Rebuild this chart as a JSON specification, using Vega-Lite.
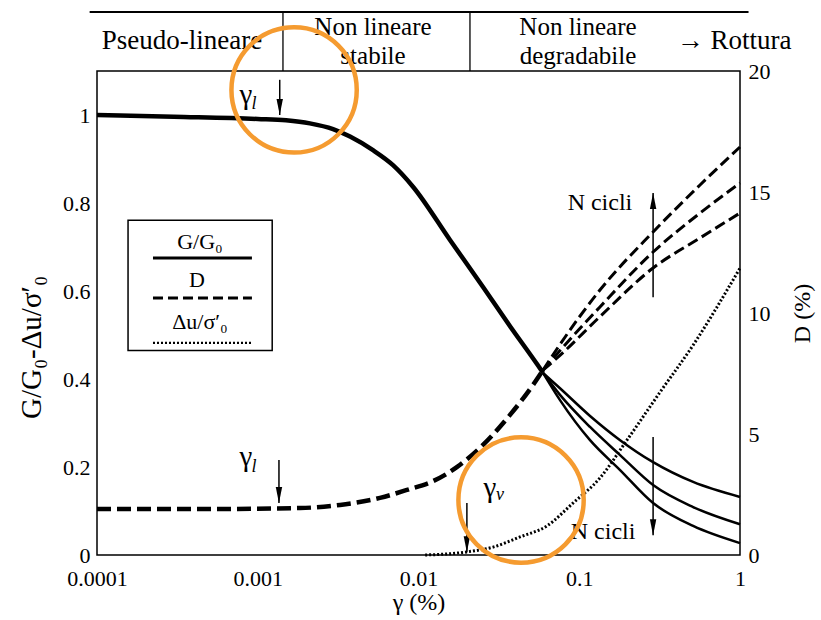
{
  "$schema": "https://vega.github.io/schema/vega-lite/v6.json",
  "width": 643,
  "height": 484,
  "autosize": "none",
  "padding": {"left": 97, "top": 71, "right": 81, "bottom": 65},
  "background": "white",
  "config": {
    "font": "Liberation Serif, DejaVu Serif, serif",
    "view": {"stroke": "black", "strokeWidth": 1.5},
    "axis": {
      "labelColor": "black", "titleColor": "black", "domainColor": "black", "tickColor": "black",
      "titleFontWeight": "normal", "labelFontSize": 22, "titleFontSize": 24,
      "domain": false, "ticks": false, "grid": false
    }
  },
  "datasets": {
    "G": [
      {"series": "main", "g": 0.0001, "v": 1.0},
      {"series": "main", "g": 0.0003, "v": 0.996},
      {"series": "main", "g": 0.001, "v": 0.991},
      {"series": "main", "g": 0.0015, "v": 0.988},
      {"series": "main", "g": 0.00211, "v": 0.981},
      {"series": "main", "g": 0.00294, "v": 0.968},
      {"series": "main", "g": 0.00375, "v": 0.951},
      {"series": "main", "g": 0.00521, "v": 0.92},
      {"series": "main", "g": 0.00694, "v": 0.886},
      {"series": "main", "g": 0.00924, "v": 0.837},
      {"series": "main", "g": 0.0157, "v": 0.716},
      {"series": "main", "g": 0.0252, "v": 0.609},
      {"series": "main", "g": 0.0371, "v": 0.52},
      {"series": "main", "g": 0.0546, "v": 0.434},
      {"series": "main", "g": 0.0595, "v": 0.414},
      {"series": "N1", "g": 0.0595, "v": 0.414},
      {"series": "N1", "g": 0.0759, "v": 0.379},
      {"series": "N1", "g": 0.1167, "v": 0.316},
      {"series": "N1", "g": 0.1795, "v": 0.261},
      {"series": "N1", "g": 0.288, "v": 0.211},
      {"series": "N1", "g": 0.511, "v": 0.166},
      {"series": "N1", "g": 1, "v": 0.132},
      {"series": "N2", "g": 0.0595, "v": 0.414},
      {"series": "N2", "g": 0.0759, "v": 0.364},
      {"series": "N2", "g": 0.1167, "v": 0.291},
      {"series": "N2", "g": 0.1795, "v": 0.227},
      {"series": "N2", "g": 0.288, "v": 0.159},
      {"series": "N2", "g": 0.511, "v": 0.109},
      {"series": "N2", "g": 1, "v": 0.07},
      {"series": "N3", "g": 0.0595, "v": 0.414},
      {"series": "N3", "g": 0.0759, "v": 0.352},
      {"series": "N3", "g": 0.1167, "v": 0.261},
      {"series": "N3", "g": 0.1795, "v": 0.193},
      {"series": "N3", "g": 0.288, "v": 0.118},
      {"series": "N3", "g": 0.511, "v": 0.066},
      {"series": "N3", "g": 1, "v": 0.027}
    ],
    "D": [
      {"series": "main", "g": 0.0001, "d": 1.9},
      {"series": "main", "g": 0.0005, "d": 1.9},
      {"series": "main", "g": 0.00183, "d": 1.94},
      {"series": "main", "g": 0.00325, "d": 2.07},
      {"series": "main", "g": 0.00576, "d": 2.36},
      {"series": "main", "g": 0.00848, "d": 2.69},
      {"series": "main", "g": 0.0123, "d": 3.05},
      {"series": "main", "g": 0.0174, "d": 3.64},
      {"series": "main", "g": 0.0252, "d": 4.55},
      {"series": "main", "g": 0.0371, "d": 5.79},
      {"series": "main", "g": 0.0515, "d": 7.02},
      {"series": "main", "g": 0.0595, "d": 7.64},
      {"series": "N1", "g": 0.0595, "d": 7.64},
      {"series": "N1", "g": 0.0759, "d": 8.7},
      {"series": "N1", "g": 0.1345, "d": 10.95},
      {"series": "N1", "g": 0.288, "d": 13.35},
      {"series": "N1", "g": 0.564, "d": 15.29},
      {"series": "N1", "g": 1, "d": 16.86},
      {"series": "N2", "g": 0.0595, "d": 7.64},
      {"series": "N2", "g": 0.0759, "d": 8.45},
      {"series": "N2", "g": 0.1345, "d": 10.25},
      {"series": "N2", "g": 0.288, "d": 12.52},
      {"series": "N2", "g": 0.564, "d": 14.13},
      {"series": "N2", "g": 1, "d": 15.37},
      {"series": "N3", "g": 0.0595, "d": 7.64},
      {"series": "N3", "g": 0.0759, "d": 8.25},
      {"series": "N3", "g": 0.1345, "d": 9.85},
      {"series": "N3", "g": 0.288, "d": 11.86},
      {"series": "N3", "g": 0.564, "d": 13.1},
      {"series": "N3", "g": 1, "d": 14.13}
    ],
    "U": [
      {"g": 0.011, "v": 0},
      {"g": 0.013, "v": 0.001},
      {"g": 0.02, "v": 0.007},
      {"g": 0.0291, "v": 0.018},
      {"g": 0.0428, "v": 0.041},
      {"g": 0.0629, "v": 0.066},
      {"g": 0.0914, "v": 0.118},
      {"g": 0.1345, "v": 0.175},
      {"g": 0.198, "v": 0.261},
      {"g": 0.318, "v": 0.37},
      {"g": 0.511, "v": 0.477},
      {"g": 1, "v": 0.652}
    ],
    "xticks": [
      {"g": 0.0001, "major": true}, {"g": 0.0002, "major": false}, {"g": 0.0003, "major": false}, {"g": 0.0004, "major": false}, {"g": 0.0005, "major": false}, {"g": 0.0006, "major": false}, {"g": 0.0007, "major": false}, {"g": 0.0008, "major": false}, {"g": 0.0009, "major": false},
      {"g": 0.001, "major": true}, {"g": 0.002, "major": false}, {"g": 0.003, "major": false}, {"g": 0.004, "major": false}, {"g": 0.005, "major": false}, {"g": 0.006, "major": false}, {"g": 0.007, "major": false}, {"g": 0.008, "major": false}, {"g": 0.009, "major": false},
      {"g": 0.01, "major": true}, {"g": 0.02, "major": false}, {"g": 0.03, "major": false}, {"g": 0.04, "major": false}, {"g": 0.05, "major": false}, {"g": 0.06, "major": false}, {"g": 0.07, "major": false}, {"g": 0.08, "major": false}, {"g": 0.09, "major": false},
      {"g": 0.1, "major": true}, {"g": 0.2, "major": false}, {"g": 0.3, "major": false}, {"g": 0.4, "major": false}, {"g": 0.5, "major": false}, {"g": 0.6, "major": false}, {"g": 0.7, "major": false}, {"g": 0.8, "major": false}, {"g": 0.9, "major": false},
      {"g": 1, "major": true}
    ],
    "yticks": [
      {"v": 0, "major": true}, {"v": 0.05, "major": false}, {"v": 0.1, "major": false}, {"v": 0.15, "major": false},
      {"v": 0.2, "major": true}, {"v": 0.25, "major": false}, {"v": 0.3, "major": false}, {"v": 0.35, "major": false},
      {"v": 0.4, "major": true}, {"v": 0.45, "major": false}, {"v": 0.5, "major": false}, {"v": 0.55, "major": false},
      {"v": 0.6, "major": true}, {"v": 0.65, "major": false}, {"v": 0.7, "major": false}, {"v": 0.75, "major": false},
      {"v": 0.8, "major": true}, {"v": 0.85, "major": false}, {"v": 0.9, "major": false}, {"v": 0.95, "major": false},
      {"v": 1, "major": true}, {"v": 1.05, "major": false}
    ],
    "dticks": [
      {"d": 0, "major": true}, {"d": 1, "major": false}, {"d": 2, "major": false}, {"d": 3, "major": false}, {"d": 4, "major": false},
      {"d": 5, "major": true}, {"d": 6, "major": false}, {"d": 7, "major": false}, {"d": 8, "major": false}, {"d": 9, "major": false},
      {"d": 10, "major": true}, {"d": 11, "major": false}, {"d": 12, "major": false}, {"d": 13, "major": false}, {"d": 14, "major": false},
      {"d": 15, "major": true}, {"d": 16, "major": false}, {"d": 17, "major": false}, {"d": 18, "major": false}, {"d": 19, "major": false},
      {"d": 20, "major": true}
    ],
    "arrows": [
      {"g": 0.00137, "v": 1.08, "v2": 1.0, "dir": "down"},
      {"g": 0.001355, "v": 0.216, "v2": 0.118, "dir": "down"},
      {"g": 0.02, "v": 0.118, "v2": 0.006, "dir": "down"},
      {"g": 0.288, "v": 0.586, "v2": 0.823, "dir": "up"},
      {"g": 0.288, "v": 0.268, "v2": 0.045, "dir": "down"}
    ],
    "labels": [
      {"kind": "header", "label": "Pseudo-lineare", "g": 0.000338, "v": 1.15},
      {"kind": "headerStack", "label": "Non lineare", "g": 0.00521, "v": 1.1818},
      {"kind": "headerStack", "label": "stabile", "g": 0.00521, "v": 1.1159},
      {"kind": "headerStack", "label": "Non lineare", "g": 0.0982, "v": 1.1818},
      {"kind": "headerStack", "label": "degradabile", "g": 0.0982, "v": 1.1159},
      {"kind": "header", "label": "→ Rottura", "g": 0.918, "v": 1.15},
      {"kind": "gamma", "label": "γ", "g": 0.000845, "v": 1.045},
      {"kind": "gamma", "label": "γ", "g": 0.000845, "v": 0.2227},
      {"kind": "gamma", "label": "γ", "g": 0.02786, "v": 0.152},
      {"kind": "sub", "label": "l", "g": 0.000948, "v": 1.025},
      {"kind": "sub", "label": "l", "g": 0.000948, "v": 0.2},
      {"kind": "sub", "label": "v", "g": 0.0321, "v": 0.136},
      {"kind": "ncicli", "label": "N cicli", "g": 0.1345, "v": 0.8},
      {"kind": "ncicli", "label": "N cicli", "g": 0.1406, "v": 0.052},
      {"kind": "legend", "label": "G/G₀", "g": 0.000437, "v": 0.711},
      {"kind": "legend", "label": "D", "g": 0.000419, "v": 0.625},
      {"kind": "legend", "label": "Δu/σ′₀", "g": 0.000437, "v": 0.53}
    ],
    "legendLines": [
      {"series": "G", "g": 0.000223, "g2": 0.00092, "v": 0.675},
      {"series": "D", "g": 0.000223, "g2": 0.00092, "v": 0.584},
      {"series": "U", "g": 0.000223, "g2": 0.00092, "v": 0.482}
    ],
    "box": [{"g": 0.000156, "g2": 0.00123, "v": 0.761, "v2": 0.465}],
    "hline": [{"g": 0.00009, "g2": 1.13, "v": 1.234}],
    "vlines": [
      {"g": 0.001435, "v": 1.234, "v2": 1.1},
      {"g": 0.0209, "v": 1.234, "v2": 1.1}
    ],
    "circles": [
      {"g": 0.001683, "v": 1.057},
      {"g": 0.04345, "v": 0.125}
    ]
  },
  "layer": [
    {
      "encoding": {
        "x": {
          "field": "g", "type": "quantitative",
          "scale": {"type": "log", "domain": [0.0001, 1]},
          "axis": {
            "title": "γ (%)",
            "values": [0.0001, 0.001, 0.01, 0.1, 1],
            "labelExpr": "datum.value == 0.0001 ? '0.0001' : datum.value == 0.001 ? '0.001' : datum.value == 0.01 ? '0.01' : datum.value == 0.1 ? '0.1' : datum.value == 1 ? '1' : ''",
            "labelFlush": false, "labelOverlap": false,
            "labelPadding": 13, "titlePadding": 1
          }
        },
        "y": {
          "field": "d", "type": "quantitative",
          "scale": {"domain": [0, 20], "nice": false, "zero": false},
          "axis": {
            "orient": "right", "title": "D (%)",
            "values": [0, 5, 10, 15, 20],
            "labelOverlap": false, "labelPadding": 8,
            "titleAngle": 270, "titleBaseline": "top", "titlePadding": 20
          }
        }
      },
      "layer": [
        {
          "data": {"name": "D"},
          "transform": [{"filter": "datum.series == 'main'"}],
          "mark": {"type": "line", "color": "black", "strokeWidth": 4.5, "strokeDash": [14, 6], "interpolate": "monotone"}
        },
        {
          "data": {"name": "D"},
          "transform": [{"filter": "datum.series != 'main'"}],
          "mark": {"type": "line", "color": "black", "strokeWidth": 3, "strokeDash": [11, 5], "interpolate": "monotone"},
          "encoding": {"detail": {"field": "series"}}
        },
        {
          "data": {"name": "dticks"},
          "transform": [{"filter": "datum.major"}],
          "mark": {"type": "rule", "color": "black", "strokeWidth": 1.5},
          "encoding": {"x": {"datum": 0.867, "type": "quantitative"}, "x2": {"datum": 1}}
        },
        {
          "data": {"name": "dticks"},
          "transform": [{"filter": "!datum.major"}],
          "mark": {"type": "rule", "color": "black", "strokeWidth": 1.5},
          "encoding": {"x": {"datum": 0.905, "type": "quantitative"}, "x2": {"datum": 1}}
        }
      ]
    },
    {
      "encoding": {
        "x": {
          "field": "g", "type": "quantitative",
          "scale": {"type": "log", "domain": [0.0001, 1]},
          "axis": {
            "title": "γ (%)",
            "values": [0.0001, 0.001, 0.01, 0.1, 1],
            "labelExpr": "datum.value == 0.0001 ? '0.0001' : datum.value == 0.001 ? '0.001' : datum.value == 0.01 ? '0.01' : datum.value == 0.1 ? '0.1' : datum.value == 1 ? '1' : ''",
            "labelFlush": false, "labelOverlap": false,
            "labelPadding": 13, "titlePadding": 1
          }
        },
        "y": {
          "field": "v", "type": "quantitative",
          "scale": {"domain": [0, 1.1], "nice": false, "zero": false},
          "axis": {
            "orient": "left", "title": "G/G₀-Δu/σ′₀",
            "values": [0, 0.2, 0.4, 0.6, 0.8, 1],
            "labelExpr": "format(datum.value, '~g')",
            "labelOverlap": false, "labelPadding": 7,
            "titlePadding": 16, "titleFontSize": 29, "titleY": 276
          }
        }
      },
      "layer": [
        {
          "data": {"name": "xticks"},
          "transform": [{"filter": "datum.major"}],
          "mark": {"type": "rule", "color": "black", "strokeWidth": 1.5},
          "encoding": {"y": {"datum": 0, "type": "quantitative"}, "y2": {"datum": 0.025}}
        },
        {
          "data": {"name": "xticks"},
          "transform": [{"filter": "!datum.major"}],
          "mark": {"type": "rule", "color": "black", "strokeWidth": 1.5},
          "encoding": {"y": {"datum": 0, "type": "quantitative"}, "y2": {"datum": 0.0159}}
        },
        {
          "data": {"name": "yticks"},
          "transform": [{"filter": "datum.major"}],
          "mark": {"type": "rule", "color": "black", "strokeWidth": 1.5},
          "encoding": {"x": {"datum": 0.0001, "type": "quantitative"}, "x2": {"datum": 0.0001154}}
        },
        {
          "data": {"name": "yticks"},
          "transform": [{"filter": "!datum.major"}],
          "mark": {"type": "rule", "color": "black", "strokeWidth": 1.5},
          "encoding": {"x": {"datum": 0.0001, "type": "quantitative"}, "x2": {"datum": 0.0001105}}
        },
        {
          "data": {"name": "G"},
          "transform": [{"filter": "datum.series == 'main'"}],
          "mark": {"type": "line", "color": "black", "strokeWidth": 4.5, "interpolate": "monotone"}
        },
        {
          "data": {"name": "G"},
          "transform": [{"filter": "datum.series != 'main'"}],
          "mark": {"type": "line", "color": "black", "strokeWidth": 2.5, "interpolate": "monotone"},
          "encoding": {"detail": {"field": "series"}}
        },
        {
          "data": {"name": "U"},
          "mark": {"type": "line", "color": "black", "strokeWidth": 3, "strokeDash": [2, 2], "interpolate": "monotone"}
        },
        {
          "data": {"name": "box"},
          "mark": {"type": "rect", "filled": false, "color": "black", "strokeWidth": 1.5},
          "encoding": {"x2": {"field": "g2"}, "y2": {"field": "v2"}}
        },
        {
          "data": {"name": "legendLines"},
          "transform": [{"filter": "datum.series == 'G'"}],
          "mark": {"type": "rule", "color": "black", "strokeWidth": 3},
          "encoding": {"x2": {"field": "g2"}}
        },
        {
          "data": {"name": "legendLines"},
          "transform": [{"filter": "datum.series == 'D'"}],
          "mark": {"type": "rule", "color": "black", "strokeWidth": 3, "strokeDash": [10, 5]},
          "encoding": {"x2": {"field": "g2"}}
        },
        {
          "data": {"name": "legendLines"},
          "transform": [{"filter": "datum.series == 'U'"}],
          "mark": {"type": "rule", "color": "black", "strokeWidth": 2.4, "strokeDash": [2, 2]},
          "encoding": {"x2": {"field": "g2"}}
        },
        {
          "data": {"name": "hline"},
          "mark": {"type": "rule", "color": "black", "strokeWidth": 2},
          "encoding": {"x2": {"field": "g2"}}
        },
        {
          "data": {"name": "vlines"},
          "mark": {"type": "rule", "color": "black", "strokeWidth": 1.3},
          "encoding": {"y2": {"field": "v2"}}
        },
        {
          "data": {"name": "arrows"},
          "mark": {"type": "rule", "color": "black", "strokeWidth": 1.5},
          "encoding": {"y2": {"field": "v2"}}
        },
        {
          "data": {"name": "arrows"},
          "mark": {"type": "point", "filled": true, "color": "black", "size": 256, "opacity": 1},
          "encoding": {
            "y": {"field": "v2", "type": "quantitative"},
            "shape": {"field": "dir", "type": "nominal", "scale": {"domain": ["down", "up"], "range": ["M0,0L-0.4,-2L0.4,-2Z", "M0,0L-0.4,2L0.4,2Z"]}, "legend": null}
          }
        },
        {
          "data": {"name": "labels"},
          "transform": [{"filter": "datum.kind == 'header'"}],
          "mark": {"type": "text", "fontSize": 27, "color": "black", "align": "center", "baseline": "alphabetic"},
          "encoding": {"text": {"field": "label"}}
        },
        {
          "data": {"name": "labels"},
          "transform": [{"filter": "datum.kind == 'headerStack'"}],
          "mark": {"type": "text", "fontSize": 25, "color": "black", "align": "center", "baseline": "alphabetic"},
          "encoding": {"text": {"field": "label"}}
        },
        {
          "data": {"name": "labels"},
          "transform": [{"filter": "datum.kind == 'gamma'"}],
          "mark": {"type": "text", "fontSize": 29, "color": "black", "align": "center", "baseline": "middle"},
          "encoding": {"text": {"field": "label"}}
        },
        {
          "data": {"name": "labels"},
          "transform": [{"filter": "datum.kind == 'sub'"}],
          "mark": {"type": "text", "fontSize": 18, "fontStyle": "italic", "color": "black", "align": "center", "baseline": "middle"},
          "encoding": {"text": {"field": "label"}}
        },
        {
          "data": {"name": "labels"},
          "transform": [{"filter": "datum.kind == 'ncicli'"}],
          "mark": {"type": "text", "fontSize": 24, "color": "black", "align": "center", "baseline": "middle"},
          "encoding": {"text": {"field": "label"}}
        },
        {
          "data": {"name": "labels"},
          "transform": [{"filter": "datum.kind == 'legend'"}],
          "mark": {"type": "text", "fontSize": 22, "color": "black", "align": "center", "baseline": "middle"},
          "encoding": {"text": {"field": "label"}}
        },
        {
          "data": {"name": "circles"},
          "mark": {"type": "point", "shape": "circle", "filled": false, "color": "#F59B30", "strokeWidth": 4.5, "size": 15700, "opacity": 1}
        }
      ]
    }
  ],
  "resolve": {"scale": {"y": "independent"}}
}
